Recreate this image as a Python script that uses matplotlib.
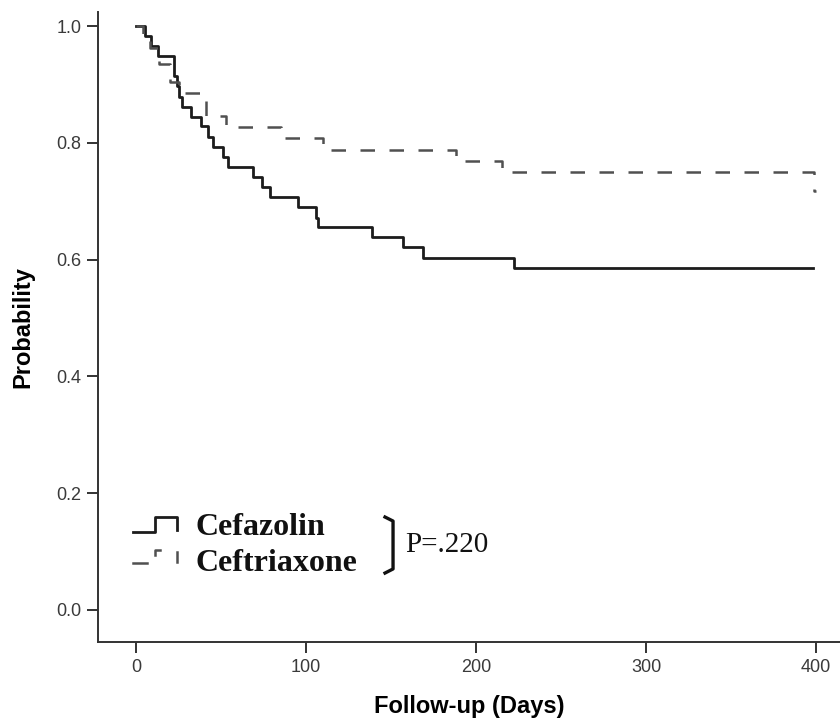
#!/usr/bin/python3

"""Kaplan-Meier style curves, cefazolin vs ceftriaxone"""
import matplotlib
matplotlib.use("Agg")
import matplotlib.pyplot as plt

# step curves (time in days, survival probability)
cefazolin_days = [0, 5, 9, 13, 22, 22.5, 24, 25.5, 27, 32, 38, 42, 45, 51, 54,
                  69, 74, 79, 95, 106, 107, 139, 157, 169, 222, 398]
cefazolin_prob = [1.0, 0.983, 0.966, 0.948, 0.931, 0.914, 0.897, 0.879, 0.862,
                  0.845, 0.828, 0.810, 0.793, 0.776, 0.759, 0.741, 0.724, 0.707,
                  0.690, 0.672, 0.655, 0.638, 0.621, 0.603, 0.586, 0.586]

ceftriaxone_days = [0, 4, 8, 13.5, 20, 25, 41, 53, 85, 110, 188, 215, 399, 400]
ceftriaxone_prob = [1.0, 0.981, 0.962, 0.935, 0.904, 0.885, 0.846, 0.827, 0.808,
                    0.788, 0.769, 0.750, 0.717, 0.717]

xticks = [0, 100, 200, 300, 400]
yticks = [0.0, 0.2, 0.4, 0.6, 0.8, 1.0]


def main():
    fig = plt.figure(figsize=(8.4, 7.2), dpi=100)
    ax = fig.add_axes([0.1167, 0.1083, 0.8833, 0.875])

    ax.step(cefazolin_days, cefazolin_prob, where="post", color="#1c1c1c", lw=2.0)
    ax.step(ceftriaxone_days, ceftriaxone_prob, where="post", color="#505050",
            lw=1.8, dashes=(5.8, 5.8))

    ax.set_xlim(-22.4, 414)
    ax.set_ylim(-0.055, 1.024)
    ax.set_xticks(xticks)
    ax.set_yticks(yticks)
    ax.set_xticklabels([str(t) for t in xticks])
    ax.set_yticklabels(["%.1f" % t for t in yticks])

    for s in ["top", "right"]:
        ax.spines[s].set_visible(False)
    for s in ["left", "bottom"]:
        ax.spines[s].set_color("#333333")
        ax.spines[s].set_linewidth(1.4)
    ax.tick_params(direction="out", length=8, width=1.4, color="#333333",
                   labelsize=13, labelcolor="#3a3a3a", pad=4)
    for lab in ax.get_xticklabels() + ax.get_yticklabels():
        lab.set_family("Liberation Sans")

    ax.set_xlabel("Follow-up (Days)", family="Liberation Sans", fontsize=17,
                  fontweight="bold", labelpad=14)
    ax.set_ylabel("Probability", family="Liberation Sans", fontsize=17,
                  fontweight="bold", labelpad=16)

    # hand drawn legend like the original
    tr = ax.transAxes
    ax.plot([0.0472, 0.0768, 0.0768, 0.1065, 0.1065],
            [0.1746, 0.1746, 0.1984, 0.1984, 0.1778],
            transform=tr, color="#1c1c1c", lw=2.0, clip_on=False)
    ax.plot([0.0472, 0.066], [0.1254, 0.1254], transform=tr, color="#505050",
            lw=1.8, clip_on=False)
    ax.plot([0.0768, 0.0768, 0.084], [0.138, 0.146, 0.146], transform=tr,
            color="#505050", lw=1.8, clip_on=False)
    ax.plot([0.1065, 0.1065], [0.127, 0.143], transform=tr, color="#505050",
            lw=1.8, clip_on=False)

    ax.text(0.1307, 0.1698, "Cefazolin", transform=tr, family="Liberation Serif",
            fontweight="bold", fontsize=23, va="baseline", color="#111111")
    ax.text(0.1307, 0.1127, "Ceftriaxone", transform=tr, family="Liberation Serif",
            fontweight="bold", fontsize=23, va="baseline", color="#111111")

    ax.plot([0.3868, 0.3976, 0.3976, 0.3868], [0.1984, 0.1920, 0.1160, 0.1095],
            transform=tr, color="#111111", lw=2.4, clip_on=False,
            solid_joinstyle="round")
    ax.text(0.4137, 0.1433, "P=.220", transform=tr, family="Liberation Serif",
            fontsize=21, va="baseline", color="#111111")

    plt.savefig("out.png", dpi=100)


if __name__ == '__main__':
    main()
